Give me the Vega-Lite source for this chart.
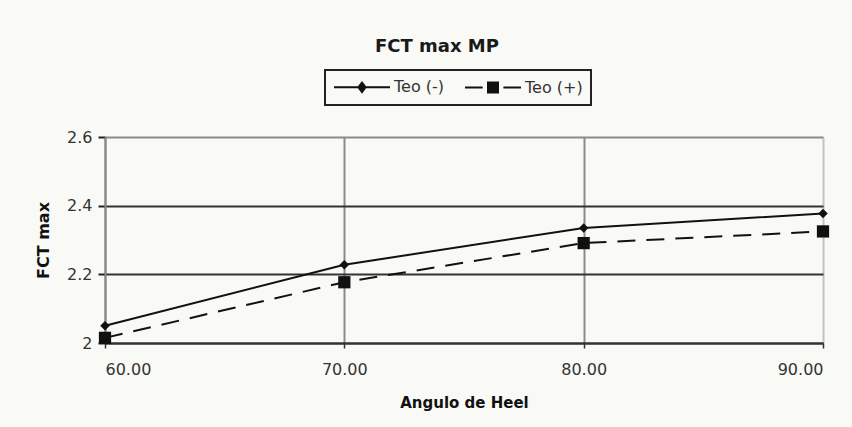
{
  "$schema": "https://vega.github.io/schema/vega-lite/v6.json",
  "width": 718,
  "height": 206,
  "autosize": {"type": "none"},
  "padding": {"left": 105, "top": 137, "right": 29, "bottom": 84},
  "background": "#f9f9f6",
  "title": {
    "text": "FCT max MP",
    "font": "DejaVu Sans",
    "fontSize": 18,
    "fontWeight": "bold",
    "color": "#1a1a1a",
    "frame": "group",
    "anchor": "middle",
    "offset": 13,
    "dx": -27
  },
  "data": {
    "values": [
      {"angulo": 60, "fct": 2.05, "serie": "Teo (-)"},
      {"angulo": 70, "fct": 2.228, "serie": "Teo (-)"},
      {"angulo": 80, "fct": 2.335, "serie": "Teo (-)"},
      {"angulo": 90, "fct": 2.377, "serie": "Teo (-)"},
      {"angulo": 60, "fct": 2.015, "serie": "Teo (+)"},
      {"angulo": 70, "fct": 2.177, "serie": "Teo (+)"},
      {"angulo": 80, "fct": 2.291, "serie": "Teo (+)"},
      {"angulo": 90, "fct": 2.325, "serie": "Teo (+)"}
    ]
  },
  "encoding": {
    "x": {
      "field": "angulo",
      "type": "quantitative",
      "scale": {"domain": [60, 90], "nice": false, "zero": false},
      "axis": {
        "title": "Angulo de Heel",
        "values": [60, 70, 80, 90],
        "format": ".2f",
        "domainColor": "#333333",
        "domainWidth": 2,
        "grid": true,
        "gridWidth": 2,
        "gridColor": {"condition": {"test": "datum.value >= 90", "value": "#c4c4c4"}, "value": "#8a8a8a"},
        "tickColor": "#333333",
        "tickSize": 5,
        "tickWidth": 1.5,
        "labelFont": "DejaVu Sans",
        "labelFontSize": 16,
        "labelColor": "#333333",
        "labelPadding": 13,
        "titleFont": "DejaVu Sans",
        "titleFontSize": 15,
        "titleFontWeight": "bold",
        "titleColor": "#111111",
        "titlePadding": 18
      }
    },
    "y": {
      "field": "fct",
      "type": "quantitative",
      "scale": {"domain": [2, 2.6], "nice": false, "zero": false},
      "axis": {
        "title": "FCT max",
        "values": [2, 2.2, 2.4, 2.6],
        "format": "~g",
        "domainColor": "#8a8a8a",
        "domainWidth": 2,
        "grid": true,
        "gridWidth": 2,
        "gridColor": {"condition": {"test": "datum.value >= 2.6", "value": "#8a8a8a"}, "value": "#333333"},
        "tickColor": "#222222",
        "tickSize": 7,
        "tickWidth": 2,
        "labelFont": "DejaVu Sans",
        "labelFontSize": 16,
        "labelColor": "#333333",
        "labelPadding": 6,
        "titleFont": "DejaVu Sans",
        "titleFontSize": 16,
        "titleFontWeight": "bold",
        "titleColor": "#111111",
        "titlePadding": 15
      }
    }
  },
  "layer": [
    {
      "transform": [{"filter": "datum.serie === 'Teo (-)'"}],
      "mark": {"type": "line", "color": "#111111", "strokeWidth": 2}
    },
    {
      "transform": [{"filter": "datum.serie === 'Teo (+)'"}],
      "mark": {"type": "line", "color": "#111111", "strokeWidth": 2, "strokeDash": [18, 11]}
    },
    {
      "transform": [{"filter": "datum.serie === 'Teo (-)'"}],
      "mark": {"type": "point", "shape": "diamond", "filled": true, "color": "#111111", "size": 90, "opacity": 1}
    },
    {
      "transform": [{"filter": "datum.serie === 'Teo (+)'"}],
      "mark": {"type": "point", "shape": "square", "filled": true, "color": "#111111", "size": 150, "opacity": 1}
    },
    {
      "mark": {"type": "point", "filled": true, "color": "#111111", "opacity": 0},
      "encoding": {
        "shape": {
          "field": "serie",
          "type": "nominal",
          "scale": {
            "domain": ["Teo (-)", "Teo (+)"],
            "range": [
              "M-3.5,-0.13H3.5V0.13H-3.5ZM0,-0.8L0.6,0L0,0.8L-0.6,0Z",
              "M-3.5,-0.13H-1.3V0.13H-3.5ZM1.3,-0.13H3.5V0.13H1.3ZM-0.75,-0.75H0.75V0.75H-0.75Z"
            ]
          },
          "legend": {
            "title": null,
            "orient": "none",
            "legendX": 220,
            "legendY": -67,
            "direction": "horizontal",
            "symbolSize": 256,
            "symbolOffset": 20,
            "symbolOpacity": 1,
            "symbolFillColor": "#111111",
            "labelFont": "DejaVu Sans",
            "labelFontSize": 16,
            "labelColor": "#333333",
            "labelOffset": 23,
            "columnPadding": 17,
            "padding": 8,
            "strokeColor": "#222222"
          }
        }
      }
    }
  ],
  "config": {
    "view": {"stroke": null},
    "legend": {"strokeWidth": 2}
  }
}
